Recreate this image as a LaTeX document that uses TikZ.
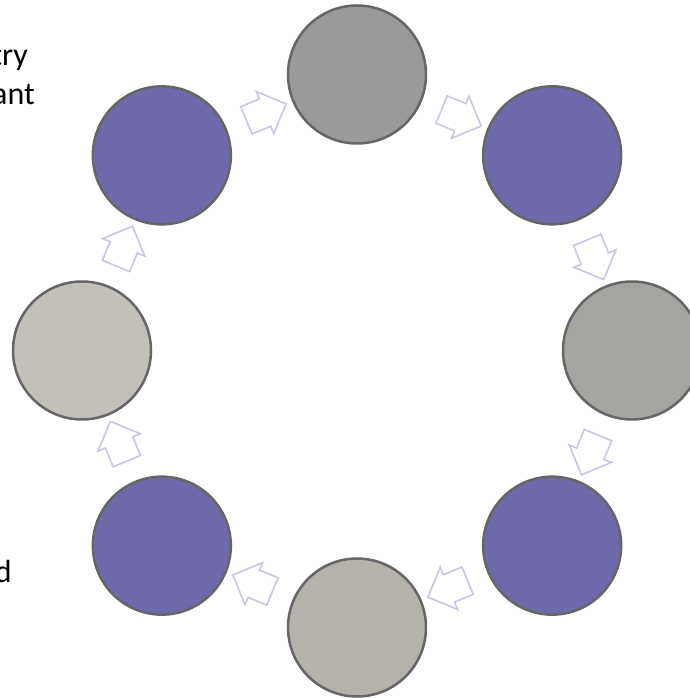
\documentclass[tikz,border=0pt]{standalone}
\usepackage{fontspec}
\setmainfont{Carlito}
\usetikzlibrary{shapes.arrows}
\definecolor{cpurple}{RGB}{110,106,172}
\definecolor{cgrayA}{RGB}{154,154,154}
\definecolor{cgrayB}{RGB}{166,165,161}
\definecolor{cgrayC}{RGB}{181,178,172}
\definecolor{cgrayD}{RGB}{194,192,185}
\definecolor{cedge}{RGB}{102,102,102}
\definecolor{carrow}{RGB}{201,197,230}
\tikzset{
  stage/.style={circle, draw=cedge, line width=2.5pt, minimum size=138pt, inner sep=0pt},
  flowarrow/.style={single arrow, draw=carrow, fill=white, line width=1.6pt,
    minimum height=43pt, single arrow head extend=8pt,
    inner xsep=0pt, inner ysep=14pt},
  lbl/.style={anchor=base east, inner sep=0pt, font=\fontsize{32}{39}\selectfont}
}
\begin{document}
\begin{tikzpicture}[x=1pt,y=1pt]
\useasboundingbox (0,0) rectangle (689,699);
\coordinate (c) at (357,348.5);
% circles
\node[stage, fill=cgrayA]  (s1) at ([shift={(90:276)}]c) {};
\node[stage, fill=cpurple] (s2) at ([shift={(45:276)}]c) {};
\node[stage, fill=cgrayB]  (s3) at ([shift={(0:275)}]c) {};
\node[stage, fill=cpurple] (s4) at ([shift={(-45:276)}]c) {};
\node[stage, fill=cgrayC]  (s5) at ([shift={(-90:277)}]c) {};
\node[stage, fill=cpurple] (s6) at ([shift={(-135:276)}]c) {};
\node[stage, fill=cgrayD]  (s7) at ([shift={(180:275)}]c) {};
\node[stage, fill=cpurple] (s8) at ([shift={(135:276)}]c) {};
% arrows
\node[flowarrow, rotate=-22.5]  (a1) at ([shift={(67.5:255)}]c) {};
\node[flowarrow, rotate=-67.5]  (a2) at ([shift={(22.5:255)}]c) {};
\node[flowarrow, rotate=-112.5] (a3) at ([shift={(-22.5:255)}]c) {};
\node[flowarrow, rotate=-157.5] (a4) at ([shift={(-67.5:255)}]c) {};
\node[flowarrow, rotate=157.5]  (a5) at ([shift={(-112.5:255)}]c) {};
\node[flowarrow, rotate=112.5]  (a6) at ([shift={(-157.5:255)}]c) {};
\node[flowarrow, rotate=67.5]   (a7) at ([shift={(157.5:255)}]c) {};
\node[flowarrow, rotate=22.5]   (a8) at ([shift={(112.5:255)}]c) {};
% cut-off text (as in the reference)
\node[lbl] (t1) at (28,633.3) {try};
\node[lbl] (t2) at (35,594) {ant};
\node[lbl] (t3) at (12,116) {d};
\end{tikzpicture}
\end{document}
